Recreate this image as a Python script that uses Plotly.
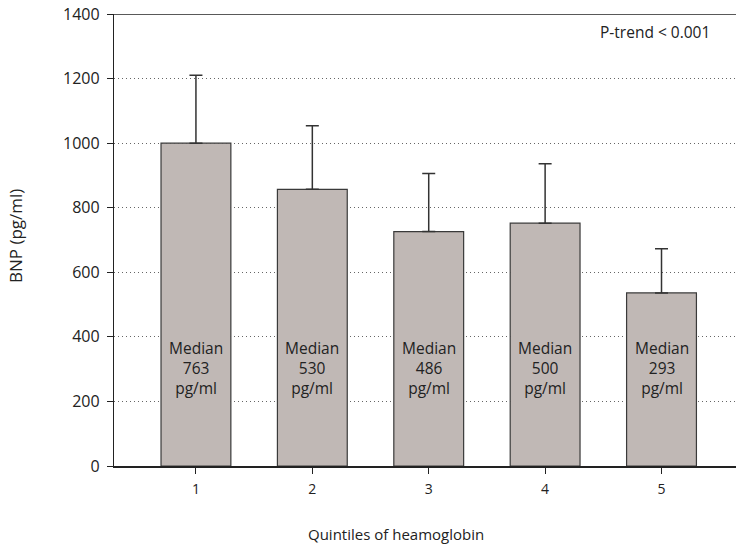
import plotly.graph_objects as go

# Mean BNP by quintile of haemoglobin, with upper SE bars and median labels
quintiles = [1, 2, 3, 4, 5]
bnp_mean = [1000, 857, 726, 752, 536]
bnp_err_upper = [210, 197, 180, 184, 137]
bnp_median = [763, 530, 486, 500, 293]
y_ticks = [0, 200, 400, 600, 800, 1000, 1200, 1400]

FONT = "Open Sans"
TEXT_COLOR = "#222222"

L, T, B = 114, 14, 85
W, H = 736, 551
plot_w = W - L
plot_h = H - T - B


def px_x(x):
    return (x - L) / plot_w


def px_y(y):
    return 1 - (y - T) / plot_h


fig = go.Figure()

fig.add_trace(go.Bar(
    x=quintiles,
    y=bnp_mean,
    width=0.6,
    marker=dict(color="#c0b8b5", line=dict(color="#3a3a3a", width=1.2)),
    error_y=dict(
        type="data",
        symmetric=False,
        array=bnp_err_upper,
        arrayminus=[0] * len(bnp_err_upper),
        color="#333333",
        thickness=1.5,
        width=6.5,
    ),
    showlegend=False,
    hoverinfo="skip",
))

# Median labels inside each bar
for q, med in zip(quintiles, bnp_median):
    fig.add_annotation(
        x=q, y=px_y(368), xref="x", yref="paper",
        text=f"Median<br>{med}<br>pg/ml", showarrow=False,
        font=dict(family=FONT, size=15.5, color=TEXT_COLOR),
        xanchor="center", yanchor="middle", align="center",
    )

fig.add_annotation(
    x=px_x(712), y=px_y(32), xref="paper", yref="paper",
    text="P-trend < 0.001", showarrow=False,
    font=dict(family=FONT, size=15.5, color=TEXT_COLOR),
    xanchor="right", yanchor="middle",
)

# Axis titles
fig.add_annotation(
    x=px_x(396), y=px_y(534), xref="paper", yref="paper",
    text="Quintiles of heamoglobin", showarrow=False,
    font=dict(family=FONT, size=15, color=TEXT_COLOR),
    xanchor="center", yanchor="middle",
)
fig.add_annotation(
    x=px_x(15), y=px_y(236), xref="paper", yref="paper",
    text="BNP (pg/ml)", textangle=-90, showarrow=False,
    font=dict(family=FONT, size=17, color=TEXT_COLOR),
    xanchor="center", yanchor="middle",
)

# Frame line along the top of the plot area
fig.add_shape(type="line", xref="paper", yref="y", x0=0, x1=1, y0=1400, y1=1400,
              line=dict(color="#222222", width=1.3))

fig.update_layout(
    width=W, height=H,
    margin=dict(l=L, r=0, t=T, b=B),
    plot_bgcolor="white", paper_bgcolor="white",
    font=dict(family=FONT, color=TEXT_COLOR),
    xaxis=dict(
        range=[0.296, 5.64],
        tickvals=quintiles,
        ticktext=[str(q) for q in quintiles],
        ticks="outside", ticklen=6, tickcolor="#222222", tickwidth=1.3,
        ticklabelstandoff=3,
        showline=True, linecolor="#222222", linewidth=2,
        showgrid=False, zeroline=False,
        tickfont=dict(family=FONT, size=14, color=TEXT_COLOR),
    ),
    yaxis=dict(
        range=[0, 1400],
        tickvals=y_ticks,
        ticks="outside", ticklen=6, tickcolor="#222222", tickwidth=1.3,
        ticklabelstandoff=4,
        showline=True, linecolor="#222222", linewidth=1.3,
        showgrid=True, gridcolor="#666666", griddash="1px,3px", gridwidth=1,
        zeroline=False,
        tickfont=dict(family=FONT, size=16, color=TEXT_COLOR),
    ),
)

fig.write_html("out.html")
